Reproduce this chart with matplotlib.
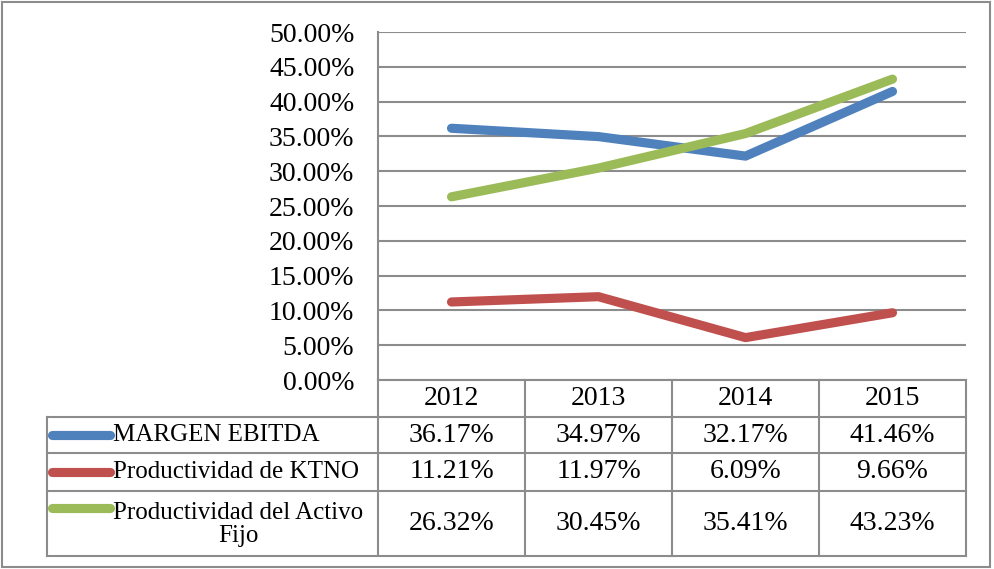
import matplotlib
matplotlib.use("Agg")
import matplotlib.pyplot as plt
from matplotlib.patches import Rectangle

# data
years = ["2012", "2013", "2014", "2015"]
series_names = ["MARGEN EBITDA", "Productividad de KTNO", "Productividad del Activo\nFijo"]
margen_ebitda = [36.17, 34.97, 32.17, 41.46]
prod_ktno = [11.21, 11.97, 6.09, 9.66]
prod_activo = [26.32, 30.45, 35.41, 43.23]
yticks = [0, 5, 10, 15, 20, 25, 30, 35, 40, 45, 50]

colors = ["#4F81BD", "#C0504D", "#9BBB59"]
grid_c = "#8C8C8C"
FONT = "Liberation Serif"
FS_NUM = 20      # digits (Cambria digits are wide)
FS_LAB = 18      # series names
LW = 6.6

W, H = 995, 569
fig = plt.figure(figsize=(W / 100, H / 100), dpi=100)
plt.rcParams["font.family"] = FONT

def fx(px): return px / W
def fy(py): return 1 - py / H

# plot area (pixel boxes)
L, R, T, B = 378, 966, 32, 380
ax = fig.add_axes([fx(L), fy(B), fx(R - L), (B - T) / H])
xs = list(range(len(years)))
for vals, c in zip([margen_ebitda, prod_ktno, prod_activo], colors):
    ax.plot(xs, vals, color=c, lw=LW, solid_capstyle="round", solid_joinstyle="round", zorder=3)
ax.set_xlim(-0.5, len(years) - 0.5)
ax.set_ylim(0, 50)
ax.set_yticks(yticks)
ax.set_yticklabels([f"{v:.2f}%" for v in yticks], fontsize=FS_NUM, family=FONT)
ax.set_xticks([])
ax.tick_params(axis="y", length=0, pad=17)
for v in yticks:
    ax.axhline(v, color=grid_c, lw=1.5, zorder=1)
for s in ["top", "right", "bottom"]:
    ax.spines[s].set_visible(False)
ax.spines["left"].set_color(grid_c)
ax.spines["left"].set_linewidth(1.5)

# data table below
TB = 556
rows_px = [B, 417, 453, 491, TB]
tab = fig.add_axes([fx(L), fy(TB), fx(R - L), (TB - B) / H])
tab.set_xlim(-0.5, len(years) - 0.5)
tab.set_ylim(TB, B)
tab.axis("off")
colw = (R - L) / len(years)
x_left = -0.5 - (L - 47) / colw
kw = dict(color=grid_c, lw=1.5, clip_on=False)
# horizontal lines
tab.plot([-0.5, len(years) - 0.5], [rows_px[0]] * 2, **kw)
for yy in rows_px[1:]:
    tab.plot([x_left, len(years) - 0.5], [yy, yy], **kw)
# vertical lines
for i in range(len(years) + 1):
    tab.plot([i - 0.5, i - 0.5], [B, TB], **kw)
tab.plot([x_left, x_left], [rows_px[1], TB], **kw)

for i, y in enumerate(years):
    tab.text(i, (rows_px[0] + rows_px[1]) / 2, y, ha="center", va="center", fontsize=FS_NUM, family=FONT)
key0 = x_left + (52 - 47) / colw
key1 = x_left + (110 - 47) / colw
txt_x = x_left + (113 - 47) / colw
for r, (name, vals, c) in enumerate(zip(series_names, [margen_ebitda, prod_ktno, prod_activo], colors)):
    top, bot = rows_px[r + 1], rows_px[r + 2]
    cy = (top + bot) / 2
    ky = top + 17 if r == 2 else cy
    tab.plot([key0, key1], [ky, ky], color=c, lw=LW, solid_capstyle="round", clip_on=False)
    tab.text(txt_x, cy + (1 if r == 2 else 0), name, ha="left", va="center", multialignment="center",
             fontsize=FS_LAB, family=FONT, linespacing=1.1)
    for i, v in enumerate(vals):
        tab.text(i, cy, f"{v:.2f}%", ha="center", va="center", fontsize=FS_NUM, family=FONT)

# chart frame
fig.patches.append(Rectangle((fx(2), fy(567)), fx(988), (565) / H, transform=fig.transFigure,
                             fill=False, edgecolor="#8C8C8C", lw=1.5))

fig.savefig("out.png", dpi=100)
